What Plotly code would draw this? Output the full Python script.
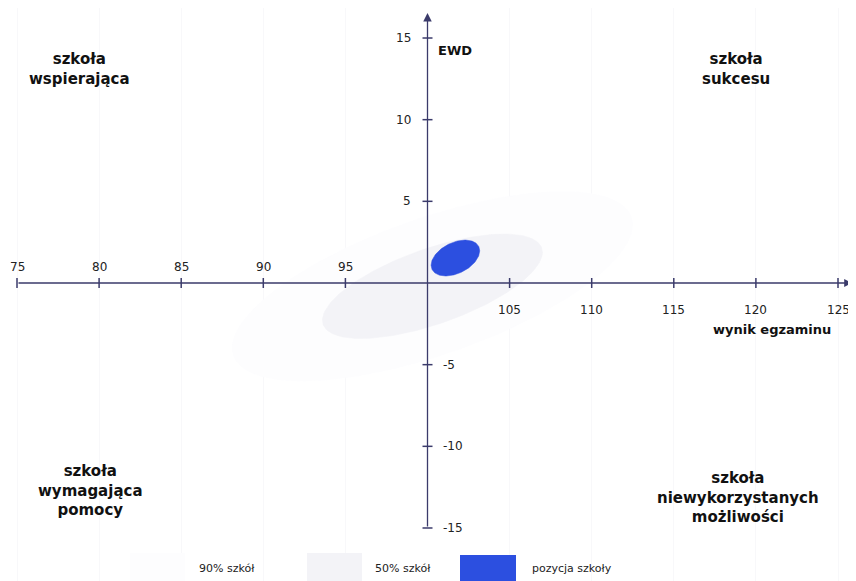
import numpy as np
import plotly.graph_objects as go

# ---- data ----
x_ticks = [75, 80, 85, 90, 95, 105, 110, 115, 120, 125]
x_tick_labels = ["75", "80", "85", "90", "95", "105", "110", "115", "120", "125"]
y_ticks = [-15, -10, -5, 5, 10, 15]
y_tick_labels = ["-15", "-10", "-5", "5", "10", "15"]
origin_x = 100
origin_y = 0

ellipse_names = ["90% szkół", "50% szkół", "pozycja szkoły"]
ellipse_cx = [100.3, 100.3, 101.7]
ellipse_cy = [-0.2, -0.2, 1.53]
ellipse_sx = [12.2, 6.7, 1.48]
ellipse_sy = [5.8, 3.2, 1.1]
ellipse_rho = [0.65, 0.65, 0.4]
ellipse_colors = ["#fdfdfe", "#f3f3f7", "#2c4fe0"]

quadrant_texts = ["szkoła<br>wspierająca", "szkoła<br>sukcesu",
                  "szkoła<br>wymagająca<br>pomocy", "szkoła<br>niewykorzystanych<br>możliwości"]

W, H = 856, 581
OFF = 8  # page offset of the figure inside the browser window
AXIS_COLOR = "#3b3b6b"
FONT = "DejaVu Sans"

# pixel calibration (75 -> 17px, 125 -> 838px ; 15 -> 38px, -15 -> 528px in the window)
xr = [75 - (17 - OFF) / 16.42, 125 + (W - (838 - OFF)) / 16.42]
yr = [-15 - (H - (528 - OFF)) / 16.33, 15 + (38 - OFF) / 16.33]
dx = 1 / 16.42  # data units per pixel
dy = 1 / 16.33


def px(x):
    return (x - OFF) / W


def py(y):
    return 1 - (y - OFF) / H


fig = go.Figure()

t = np.linspace(0, 2 * np.pi, 200)
for name, cx, cy, sx, sy, rho, col in zip(ellipse_names, ellipse_cx, ellipse_cy,
                                         ellipse_sx, ellipse_sy, ellipse_rho, ellipse_colors):
    ex = cx + sx * np.cos(t)
    ey = cy + sy * (rho * np.cos(t) + np.sqrt(1 - rho ** 2) * np.sin(t))
    fig.add_trace(go.Scatter(x=ex, y=ey, mode="lines", fill="toself", fillcolor=col,
                             line=dict(color=col, width=0.5), name=name,
                             showlegend=False, hoverinfo="skip"))

# tick crosses
tx, ty = [], []
for v in x_ticks:
    tx += [v, v, None]
    ty += [origin_y - 5 * dy, origin_y + 5 * dy, None]
for v in y_ticks:
    tx += [origin_x - 5 * dx, origin_x + 5 * dx, None]
    ty += [v, v, None]
fig.add_trace(go.Scatter(x=tx, y=ty, mode="lines", line=dict(color=AXIS_COLOR, width=1.5),
                         showlegend=False, hoverinfo="skip"))

annotations = []
# axes with arrows
annotations.append(dict(x=125 + 14 * dx, y=origin_y, ax=75, ay=origin_y, xref="x", yref="y",
                        axref="x", ayref="y", text="", showarrow=True, arrowhead=2,
                        arrowsize=1.2, arrowwidth=1.3, arrowcolor=AXIS_COLOR))
annotations.append(dict(x=origin_x, y=15 + 25 * dy, ax=origin_x, ay=-15, xref="x", yref="y",
                        axref="x", ayref="y", text="", showarrow=True, arrowhead=2,
                        arrowsize=1.3, arrowwidth=1.3, arrowcolor=AXIS_COLOR))

# x tick labels
for v, lab in zip(x_ticks, x_tick_labels):
    above = v < origin_x
    annotations.append(dict(x=v, y=origin_y + (16 * dy if above else -27 * dy), text=lab,
                            showarrow=False, xanchor="center", yanchor="middle",
                            font=dict(family=FONT, size=12, color="#222")))
# y tick labels
for v, lab in zip(y_ticks, y_tick_labels):
    pos = v > 0
    annotations.append(dict(x=origin_x + (-15 * dx if pos else 13 * dx), y=v, text=lab,
                            showarrow=False, xanchor="right" if pos else "left",
                            yanchor="middle", font=dict(family=FONT, size=12, color="#222")))

annotations.append(dict(x=origin_x + 8 * dx, y=15 - 12 * dy, text="<b>EWD</b>", showarrow=False,
                        xanchor="left", yanchor="middle",
                        font=dict(family=FONT, size=13, color="#111")))
annotations.append(dict(x=125 - 5 * dx, y=origin_y - 46 * dy, text="<b>wynik egzaminu</b>",
                        showarrow=False, xanchor="right", yanchor="middle",
                        font=dict(family=FONT, size=13, color="#111")))

# quadrant labels (window pixel positions -> paper coords)
quad_x = [79, 736, 90, 738]
quad_y = [69, 69, 490, 497]
for txt, qx, qy in zip(quadrant_texts, quad_x, quad_y):
    annotations.append(dict(x=px(qx), y=py(qy), xref="paper", yref="paper",
                            text="<b>" + txt + "</b>", showarrow=False, align="center",
                            xanchor="center", yanchor="middle",
                            font=dict(family=FONT, size=15, color="#111")))

# legend
shapes = []
sw_pos = [(130, 185, 553), (307, 362, 553), (460, 516, 555)]
lab_x = [197, 373, 530]
for (x0, x1, y0), col, name, lx in zip(sw_pos, ellipse_colors, ellipse_names, lab_x):
    shapes.append(dict(type="rect", xref="paper", yref="paper", x0=px(x0), x1=px(x1),
                       y0=0, y1=py(y0), fillcolor=col, line=dict(width=0)))
    annotations.append(dict(x=px(lx), y=py(568), xref="paper", yref="paper", text=name,
                            showarrow=False, xanchor="left", yanchor="middle",
                            font=dict(family=FONT, size=11, color="#222")))

fig.update_layout(
    width=W, height=H, margin=dict(l=0, r=0, t=0, b=0),
    paper_bgcolor="white", plot_bgcolor="white",
    xaxis=dict(range=xr, showticklabels=False, ticks="", zeroline=False, showline=False,
               tickvals=[v for v in x_ticks], showgrid=True, gridcolor="#f8f8fa", fixedrange=True),
    yaxis=dict(range=yr, showticklabels=False, ticks="", zeroline=False, showline=False,
               showgrid=False, fixedrange=True),
    annotations=annotations, shapes=shapes, showlegend=False,
)

fig.write_html("out.html")
